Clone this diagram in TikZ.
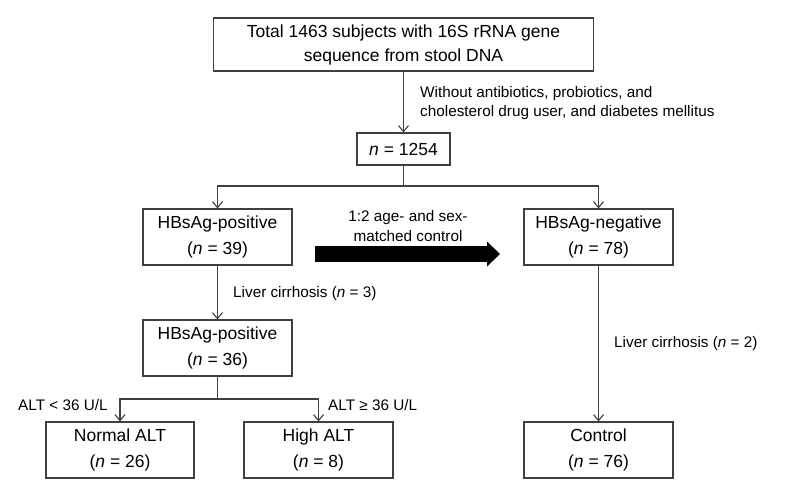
\documentclass[tikz,border=0pt]{standalone}
\usepackage{fontspec}
\setmainfont{Liberation Sans}
\usetikzlibrary{arrows.meta}

\begin{document}
\begin{tikzpicture}[x=1pt, y=-1pt,
  box/.style={draw=black!75, line width=1.1pt, inner sep=0pt, align=center,
    minimum width=149pt, minimum height=56pt, font=\fontsize{17.5}{26}\selectfont},
  lbl/.style={inner sep=0pt, font=\fontsize{15.3}{19.5}\selectfont},
  ln/.style={draw=black!75, line width=1.1pt},
  arr/.style={ln, -{Straight Barb[length=6pt,width=10pt]}},
  bigarrow/.style={line width=16pt, -{Triangle[length=13pt,width=25pt,line width=0pt]}}]
\useasboundingbox (0,0) rectangle (787,488);

\node[box, minimum width=380pt, minimum height=53pt, font=\fontsize{17.5}{24}\selectfont] (total) at (403.5,44.5) {Total 1463 subjects with 16S rRNA gene\\sequence from stool DNA};
\node[box, minimum width=93pt, minimum height=32pt] (n1254) at (403.5,149) {\textit{n} = 1254};
\node[box] (pos39) at (217.5,237) {HBsAg-positive\\(\textit{n} = 39)};
\node[box] (neg78) at (598.5,237) {HBsAg-negative\\(\textit{n} = 78)};
\node[box] (pos36) at (217.5,348) {HBsAg-positive\\(\textit{n} = 36)};
\node[box, minimum width=148pt] (normal) at (120,450) {Normal ALT\\(\textit{n} = 26)};
\node[box] (high) at (318.5,450) {High ALT\\(\textit{n} = 8)};
\node[box] (control) at (598.5,450) {Control\\(\textit{n} = 76)};

\node[lbl, anchor=west, align=left] (excl) at (420,103) {Without antibiotics, probiotics, and\\cholesterol drug user, and diabetes mellitus};
\node[lbl, align=center] (matched) at (408,226) {1:2 age- and sex-\\matched control};
\node[lbl, anchor=west] (lc3) at (233,294) {Liver cirrhosis (\textit{n} = 3)};
\node[lbl, anchor=west] (lc2) at (614,344) {Liver cirrhosis (\textit{n} = 2)};
\node[lbl, anchor=west] (altlow) at (18,405) {ALT < 36 U/L};
\node[lbl, anchor=west] (althigh) at (328,405) {ALT ≥ 36 U/L};

\coordinate (split1) at (403.5,186);
\coordinate (split2) at (217.5,399);
\coordinate (bigstart) at (315,254);
\coordinate (bigend) at (500,254);

\draw[arr] (total) -- (n1254);
\draw[ln] (n1254) -- (split1);
\foreach \to in {pos39, neg78}
	\draw[arr] (split1) -| (\to);
\draw[arr] (pos39) -- (pos36);
\draw[ln] (pos36) -- (split2);
\foreach \to in {normal, high}
	\draw[arr] (split2) -| (\to);
\draw[arr] (neg78) -- (control);
\draw[bigarrow] (bigstart) -- (bigend);

\end{tikzpicture}
\end{document}
